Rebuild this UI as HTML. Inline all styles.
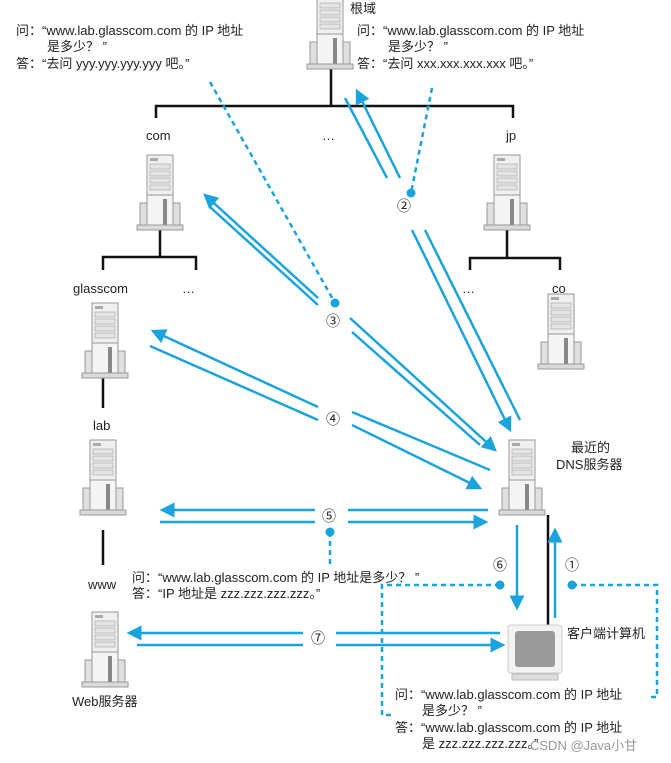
<!DOCTYPE html>
<html><head><meta charset="utf-8"><style>
html,body{margin:0;padding:0;background:#fff;}
svg{display:block;}
text{font-family:"Liberation Sans","Noto Sans CJK SC",sans-serif;font-size:13px;fill:#222;}
</style></head><body>
<svg width="671" height="763" viewBox="0 0 671 763" xmlns="http://www.w3.org/2000/svg">
<defs>
<marker id="ah" markerWidth="6" markerHeight="6" refX="5" refY="3" orient="auto" markerUnits="strokeWidth">
<path d="M0,0 L6,3 L0,6 Z" fill="#1aa3dc"/></marker>
<g id="srv">
<rect x="10" y="0" width="26" height="46" fill="#f0f0f0" stroke="#999" stroke-width="1"/>
<rect x="13" y="3" width="8" height="3" fill="#aaa"/>
<rect x="13" y="9" width="20" height="5" fill="#e4e4e4" stroke="#aaa" stroke-width="0.7"/>
<rect x="13" y="16" width="20" height="5" fill="#e4e4e4" stroke="#aaa" stroke-width="0.7"/>
<rect x="13" y="23" width="20" height="5" fill="#e4e4e4" stroke="#aaa" stroke-width="0.7"/>
<rect x="13" y="30" width="20" height="5" fill="#e4e4e4" stroke="#aaa" stroke-width="0.7"/>
<rect x="3" y="48" width="7" height="24" fill="#e0e0e0" stroke="#999" stroke-width="1"/>
<rect x="36" y="48" width="7" height="24" fill="#e0e0e0" stroke="#999" stroke-width="1"/>
<rect x="10" y="40" width="26" height="34" fill="#f4f4f4" stroke="#999" stroke-width="1"/>
<rect x="26" y="44" width="4" height="28" fill="#888"/>
<rect x="0" y="70" width="46" height="5" fill="#dadada" stroke="#999" stroke-width="1"/>
</g>
</defs>

<g stroke="#111" stroke-width="2.5" fill="none">
<path d="M331,68 V106 M156,118 V106 H513 V118"/>
<path d="M160,230 V257 M103,270 V257 H196 V270"/>
<path d="M507,230 V258 M470,270 V258 H560 V270"/>
<path d="M103,378 V408"/>
<path d="M103,530 V565"/>
<path d="M548,515 V625"/>
</g>

<use href="#srv" x="307" y="-6"/>
<use href="#srv" x="137" y="155"/>
<use href="#srv" x="484" y="155"/>
<use href="#srv" x="82" y="303"/>
<use href="#srv" x="538" y="294"/>
<use href="#srv" x="80" y="440"/>
<use href="#srv" x="499" y="440"/>
<use href="#srv" x="82" y="612"/>

<rect x="508" y="625" width="54" height="48" rx="3" fill="#f2f2f2" stroke="#ccc"/>
<rect x="515" y="631" width="40" height="36" rx="3" fill="#9a9a9a"/>
<rect x="512" y="674" width="46" height="6" fill="#ddd" stroke="#bbb"/>

<g stroke="#1aa3dc" stroke-width="2.5" fill="none">
<line x1="400" y1="178" x2="357" y2="91" marker-end="url(#ah)"/>
<line x1="345" y1="98" x2="387" y2="178"/>
<line x1="412" y1="230" x2="510" y2="430" marker-end="url(#ah)"/>
<line x1="425" y1="230" x2="520" y2="420"/>
<line x1="318" y1="298" x2="205" y2="195" marker-end="url(#ah)"/>
<line x1="210" y1="207" x2="318" y2="305"/>
<line x1="350" y1="318" x2="495" y2="450" marker-end="url(#ah)"/>
<line x1="352" y1="332" x2="480" y2="445"/>
<line x1="318" y1="407" x2="153" y2="331" marker-end="url(#ah)"/>
<line x1="150" y1="346" x2="318" y2="420"/>
<line x1="352" y1="425" x2="480" y2="488" marker-end="url(#ah)"/>
<line x1="352" y1="412" x2="490" y2="470"/>
<line x1="315" y1="510" x2="162" y2="510" marker-end="url(#ah)"/>
<line x1="348" y1="510" x2="488" y2="510"/>
<line x1="160" y1="522" x2="315" y2="522"/>
<line x1="348" y1="522" x2="486" y2="522" marker-end="url(#ah)"/>
<line x1="303" y1="633" x2="129" y2="633" marker-end="url(#ah)"/>
<line x1="336" y1="633" x2="500" y2="633"/>
<line x1="137" y1="645" x2="303" y2="645"/>
<line x1="336" y1="645" x2="503" y2="645" marker-end="url(#ah)"/>
<line x1="517" y1="525" x2="517" y2="608" marker-end="url(#ah)"/>
<line x1="555" y1="618" x2="555" y2="530" marker-end="url(#ah)"/>
</g>

<g stroke="#1aa3dc" stroke-width="2.5" fill="none" stroke-dasharray="5,4">
<line x1="210" y1="82" x2="335" y2="303"/>
<line x1="432" y1="88" x2="411" y2="193"/>
<line x1="330" y1="532" x2="330" y2="565"/>
<path d="M500,585 H382 V715 H392"/>
<path d="M572,585 H657 V697 H648"/>
</g>
<g fill="#1aa3dc">
<circle cx="335" cy="303" r="4.5"/><circle cx="411" cy="193" r="4.5"/>
<circle cx="330" cy="532" r="4.5"/><circle cx="500" cy="585" r="4.5"/><circle cx="572" cy="585" r="4.5"/>
</g>

<g>
<text x="350" y="13">根域</text>
<text x="16" y="35">问：“www.lab.glasscom.com 的 IP 地址</text>
<text x="47" y="51">是多少？ ”</text>
<text x="16" y="68">答：“去问 yyy.yyy.yyy.yyy 吧。”</text>
<text x="357" y="35">问：“www.lab.glasscom.com 的 IP 地址</text>
<text x="388" y="51">是多少？ ”</text>
<text x="357" y="68">答：“去问 xxx.xxx.xxx.xxx 吧。”</text>
<text x="146" y="140">com</text>
<text x="322" y="140">…</text>
<text x="506" y="140">jp</text>
<text x="73" y="293">glasscom</text>
<text x="182" y="293">…</text>
<text x="462" y="293">…</text>
<text x="552" y="293">co</text>
<text x="93" y="430">lab</text>
<text x="88" y="589">www</text>
<text x="72" y="706">Web服务器</text>
<text x="571" y="452">最近的</text>
<text x="556" y="469">DNS服务器</text>
<text x="567" y="638">客户端计算机</text>
<text x="132" y="582">问：“www.lab.glasscom.com 的 IP 地址是多少？ ”</text>
<text x="132" y="598">答：“IP 地址是 zzz.zzz.zzz.zzz。”</text>
<text x="395" y="699">问：“www.lab.glasscom.com 的 IP 地址</text>
<text x="422" y="715">是多少？ ”</text>
<text x="395" y="732">答：“www.lab.glasscom.com 的 IP 地址</text>
<text x="422" y="748">是 zzz.zzz.zzz.zzz。”</text>
<text x="530" y="750" style="fill:#999">CSDN @Java小甘</text>
<text x="397" y="211" style="font-size:14px">②</text>
<text x="326" y="326" style="font-size:14px">③</text>
<text x="326" y="424" style="font-size:14px">④</text>
<text x="322" y="521" style="font-size:14px">⑤</text>
<text x="493" y="570" style="font-size:14px">⑥</text>
<text x="565" y="570" style="font-size:14px">①</text>
<text x="311" y="643" style="font-size:14px">⑦</text>
</g>
</svg>
</body></html>
